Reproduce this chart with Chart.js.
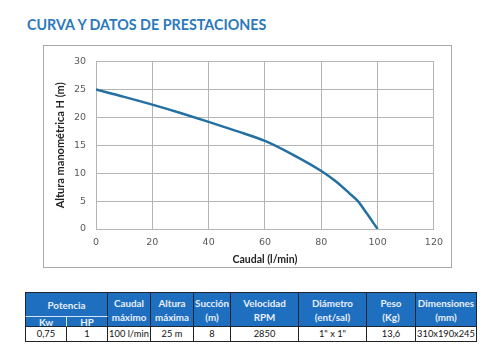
<!DOCTYPE html>
<html><head><meta charset="utf-8">
<script src="https://cdn.jsdelivr.net/npm/chart.js@4.4.1/dist/chart.umd.min.js"></script>
<style>
html,body{margin:0;padding:0;background:#fff;width:500px;height:360px;overflow:hidden;position:relative;font-family:Lato,"Open Sans",sans-serif;}
#title{position:absolute;left:27px;top:15px;font:bold 14.3px Lato,sans-serif;color:#2b79bb;white-space:nowrap;line-height:20px;}
#frame{position:absolute;left:43px;top:45px;width:407px;height:221px;border:1px solid #a9a9a9;}
#frame canvas{display:block;}
#tbl{position:absolute;left:0;top:0;}
.c{position:absolute;box-sizing:border-box;display:flex;align-items:center;justify-content:center;text-align:center;white-space:nowrap;overflow:visible;}
.c span{display:block;}
.h{background:#1f6fc0;color:#e8f0fa;font:bold 9.8px Lato,sans-serif;line-height:14px;}
.d{background:#fff;color:#111;font:9.3px Lato,sans-serif;line-height:12px;}
</style></head>
<body>
<div id="title">CURVA Y DATOS DE PRESTACIONES</div>
<div id="frame"><canvas id="c" width="407" height="221"></canvas></div>
<div id="tbl"></div>
<script>
// ---- chart data ----
const flowLpm = [0, 10, 20, 30, 40, 50, 60, 70, 80, 85, 90, 93, 96, 100];
const headM   = [25, 23.7, 22.3, 20.8, 19.2, 17.55, 15.8, 13.3, 10.4, 8.6, 6.4, 5.0, 2.9, 0];
const xTitle = 'Caudal (l/min)';
const yTitle = 'Altura manométrica H (m)';
const xRange = [0, 120, 20];
const yRange = [0, 30, 5];

// ---- table data ----
const headerTop = ['Potencia'];
const headerSub = ['Kw', 'HP'];
const headerCols = ['Caudal<br>máximo', 'Altura<br>máxima', 'Succión<br>(m)', 'Velocidad<br>RPM', 'Diámetro<br>(ent/sal)', 'Peso<br>(Kg)', 'Dimensiones<br>(mm)'];
const rowValues = ['0,75', '1', '100 l/min', '25 m', '8', '2850', '1" x 1"', '13,6', '310x190x245'];

// table layout
const colX = [25, 67, 108, 151, 194, 231, 299, 367, 416, 477];
const rowY = [292, 317, 327, 342];
const tbl = document.getElementById('tbl');
const dark = '#1d2733', light = '#d6e4f4';
function cell(x0, y0, x1, y1, cls, html, br, bb, bl, bt) {
  const d = document.createElement('div');
  d.className = 'c ' + cls;
  d.style.left = x0 + 'px'; d.style.top = y0 + 'px';
  d.style.width = (x1 - x0) + 'px'; d.style.height = (y1 - y0) + 'px';
  d.style.borderRight = '1px solid ' + br;
  d.style.borderBottom = '1px solid ' + bb;
  if (bl) d.style.borderLeft = '1px solid ' + bl;
  if (bt) d.style.borderTop = '1px solid ' + bt;
  d.innerHTML = '<span>' + html + '</span>';
  tbl.appendChild(d);
  return d;
}
cell(colX[0], rowY[0], colX[2], rowY[1], 'h', headerTop[0], dark, light, dark, dark);
cell(colX[0], rowY[1], colX[1], rowY[2], 'h', headerSub[0], light, dark, dark);
cell(colX[1], rowY[1], colX[2], rowY[2], 'h', headerSub[1], dark, dark);
headerCols.forEach((t, i) => cell(colX[i + 2], rowY[0], colX[i + 3], rowY[2], 'h', t, dark, dark, null, dark));
rowValues.forEach((t, i) => cell(colX[i], rowY[2], colX[i + 1], rowY[3], 'd', t, '#222', '#222', i === 0 ? '#222' : null));

// chart
const gridColor = '#b4b4b4';
new Chart(document.getElementById('c'), {
  type: 'line',
  data: {
    datasets: [{
      data: flowLpm.map((x, i) => ({x: x, y: headM[i]})),
      borderColor: '#2470a2',
      borderWidth: 2.5,
      pointRadius: 0,
      cubicInterpolationMode: 'monotone',
      fill: false
    }]
  },
  options: {
    responsive: false,
    animation: false,
    events: [],
    layout: {padding: {top: 6, right: 16, left: 0, bottom: 0}},
    plugins: {legend: {display: false}, tooltip: {enabled: false}},
    scales: {
      x: {
        type: 'linear', min: xRange[0], max: xRange[1],
        ticks: {stepSize: xRange[2], color: '#595959', font: {family: 'DejaVu Sans', size: 9.5}, padding: 8, maxRotation: 0},
        grid: {color: gridColor, drawTicks: false},
        border: {color: gridColor},
        title: {display: true, text: xTitle, color: '#222', font: {family: 'Lato', weight: 'bold', size: 10.5}, padding: {top: 0, bottom: 1}},
        afterFit: s => { s.height = 38; }
      },
      y: {
        type: 'linear', min: yRange[0], max: yRange[1],
        ticks: {stepSize: yRange[2], color: '#595959', font: {family: 'DejaVu Sans', size: 9.5}, padding: 10},
        grid: {color: gridColor, drawTicks: false},
        border: {color: gridColor},
        title: {display: true, text: yTitle, color: '#222', font: {family: 'Lato', weight: 'bold', size: 11}, padding: {top: 10, bottom: 0}},
        afterFit: s => { s.width = 52; }
      }
    }
  }
});
</script>
</body></html>
